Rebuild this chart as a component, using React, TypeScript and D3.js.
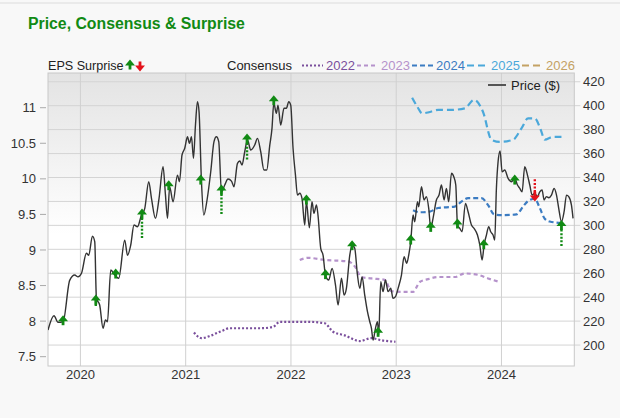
import * as d3 from "d3";

// price ($), right axis
const priceYears = [
  2019.692, 2019.749, 2019.787, 2019.835, 2019.898, 2019.946, 2019.977, 2020.01, 2020.057, 2020.079,
  2020.114, 2020.136, 2020.152, 2020.183, 2020.215, 2020.238, 2020.257, 2020.288, 2020.326, 2020.364,
  2020.421, 2020.447, 2020.478, 2020.509, 2020.542, 2020.58, 2020.611, 2020.649, 2020.675, 2020.713,
  2020.747, 2020.785, 2020.808, 2020.827, 2020.848, 2020.88, 2020.922, 2020.941, 2020.965, 2020.991,
  2021.017, 2021.036, 2021.055, 2021.074, 2021.093, 2021.112, 2021.127, 2021.15, 2021.172, 2021.203,
  2021.238, 2021.269, 2021.292, 2021.314, 2021.34, 2021.371, 2021.402, 2021.435, 2021.459, 2021.492,
  2021.514, 2021.535, 2021.561, 2021.587, 2021.618, 2021.656, 2021.682, 2021.713, 2021.744, 2021.77,
  2021.799, 2021.82, 2021.837, 2021.862, 2021.877, 2021.903, 2021.934, 2021.957, 2021.979, 2021.998,
  2022.02, 2022.043, 2022.062, 2022.084, 2022.105, 2022.131, 2022.147, 2022.175, 2022.2, 2022.219,
  2022.242, 2022.257, 2022.283, 2022.305, 2022.328, 2022.359, 2022.391, 2022.423, 2022.448, 2022.48,
  2022.505, 2022.527, 2022.559, 2022.581, 2022.606, 2022.632, 2022.654, 2022.676, 2022.701, 2022.727,
  2022.749, 2022.765, 2022.78, 2022.803, 2022.822, 2022.834, 2022.853, 2022.875, 2022.898, 2022.923,
  2022.948, 2022.97, 2022.993, 2023.018, 2023.05, 2023.075, 2023.1, 2023.119, 2023.138, 2023.16,
  2023.176, 2023.202, 2023.214, 2023.24, 2023.265, 2023.287, 2023.309, 2023.328, 2023.35, 2023.382,
  2023.407, 2023.43, 2023.455, 2023.477, 2023.499, 2023.525, 2023.547, 2023.566, 2023.582, 2023.604,
  2023.626, 2023.658, 2023.683, 2023.715, 2023.74, 2023.772, 2023.794, 2023.816, 2023.835, 2023.857,
  2023.879, 2023.898, 2023.92, 2023.936, 2023.952, 2023.968, 2023.987, 2024.006, 2024.031, 2024.063,
  2024.095, 2024.126, 2024.152, 2024.174, 2024.196, 2024.221, 2024.247, 2024.269, 2024.291, 2024.317,
  2024.342, 2024.364, 2024.386, 2024.405, 2024.427, 2024.449, 2024.475, 2024.5, 2024.523, 2024.544,
  2024.57, 2024.595, 2024.618, 2024.639, 2024.665, 2024.68,
];
const priceValues = [
  212.6, 224.5, 219, 219.5, 254, 258.5, 257, 260, 276.7, 275,
  291, 286.4, 239, 233.5, 214, 221, 219.5, 262.7, 258.5, 255.8,
  287.7, 275, 283.6, 300.3, 298.9, 308.6, 314, 336.5, 322.6, 305.9,
  322.6, 349, 325.3, 305.9, 332, 319.7, 342, 336.5, 358.8, 364.4,
  374, 368.5, 374, 356, 383.8, 403.3, 395, 336.5, 308.6, 321.2,
  344.8, 369.9, 374, 370, 328, 333.7, 338.7, 337, 332.3, 351.8,
  353.8, 350.4, 361.5, 371.3, 363, 367.1, 372.7, 361.5, 346.2, 346.2,
  367, 381, 402, 393.6, 400.5, 383.8, 397.8, 397.8, 403.3, 400.5,
  364.4, 342, 325.3, 326.8, 322.6, 300.3, 319.7, 298, 319.7, 310,
  317, 308.6, 280.8, 275.2, 258.5, 254.3, 264.1, 250.2, 233.5, 255.8,
  241.8, 247.4, 275.2, 283.6, 280.8, 258.5, 247.4, 257, 241.8, 227.9,
  219.5, 214, 204.2, 214, 219.5, 208.4, 252.9, 244.6, 254.3, 244.6,
  247.4, 239, 240.4, 247.4, 258.5, 273.8, 268.3, 275.2, 286.3, 308.6,
  303, 319.7, 315.6, 332.3, 321.2, 324, 314.2, 297.5, 305.9, 321.2,
  325.3, 333.7, 321.2, 330.9, 319.7, 343.5, 340.6, 333.7, 300.3, 297.5,
  294.7, 318.4, 311.4, 300.3, 297.5, 291.9, 283.6, 271, 283.6, 291.9,
  298.9, 294.7, 291.9, 287.7, 330.9, 353.2, 362.1, 344.8, 346.2, 339.3,
  336.5, 339.3, 333.7, 330.9, 328, 349, 342, 333.7, 325.3, 326.8,
  324, 328, 329.5, 321.2, 324, 323.1, 325.3, 330.9, 325.3, 314.2,
  303, 311.4, 325.3, 324, 317, 305.9,
];

// EPS consensus, left axis
const cons2022Years = [2021.079, 2021.15, 2021.245, 2021.34, 2021.419, 2021.53, 2021.72, 2021.83, 2021.894, 2022.036, 2022.162, 2022.321, 2022.4, 2022.511, 2022.654, 2022.765, 2022.86, 2022.993];
const cons2022Values = [7.84, 7.76, 7.8, 7.86, 7.9, 7.9, 7.9, 7.92, 7.99, 7.99, 7.99, 7.97, 7.85, 7.8, 7.72, 7.76, 7.73, 7.71];
const cons2023Years = [2022.084, 2022.162, 2022.321, 2022.543, 2022.606, 2022.67, 2022.765, 2022.891, 2022.955, 2023.081, 2023.16, 2023.224, 2023.303, 2023.398, 2023.556, 2023.651, 2023.778, 2023.873, 2023.984];
const cons2023Values = [8.86, 8.89, 8.86, 8.84, 8.77, 8.62, 8.6, 8.58, 8.42, 8.41, 8.41, 8.55, 8.59, 8.62, 8.62, 8.67, 8.65, 8.6, 8.55];
const cons2024Years = [2023.16, 2023.224, 2023.319, 2023.398, 2023.556, 2023.62, 2023.683, 2023.81, 2023.873, 2023.93, 2024.0, 2024.143, 2024.205, 2024.253, 2024.317, 2024.364, 2024.411, 2024.459, 2024.57];
const cons2024Values = [9.56, 9.53, 9.54, 9.59, 9.61, 9.68, 9.73, 9.73, 9.63, 9.5, 9.49, 9.5, 9.61, 9.69, 9.72, 9.59, 9.44, 9.4, 9.38];
const cons2025Years = [2023.151, 2023.202, 2023.246, 2023.319, 2023.398, 2023.525, 2023.651, 2023.74, 2023.825, 2023.905, 2023.984, 2024.11, 2024.19, 2024.253, 2024.317, 2024.373, 2024.411, 2024.49, 2024.57];
const cons2025Values = [11.14, 11.01, 10.92, 10.94, 10.97, 10.97, 10.99, 11.11, 10.94, 10.55, 10.52, 10.55, 10.71, 10.85, 10.85, 10.69, 10.55, 10.59, 10.59];

// EPS surprise markers
const surpriseYears = [2019.835, 2020.146, 2020.335, 2020.585, 2020.839, 2021.143, 2021.34, 2021.583, 2021.837, 2022.147, 2022.328, 2022.581, 2022.828, 2023.138, 2023.328, 2023.582, 2023.832, 2024.126, 2024.317, 2024.57];
const surprisePrices = [219.5, 236.8, 258.5, 308.6, 332.3, 337, 328.7, 371.3, 403.3, 320.3, 258, 282.2, 209.8, 286.9, 297.5, 300.3, 283, 337, 325.3, 299];
const surpriseDir = ["up", "up", "up", "up", "up", "up", "up", "up", "up", "up", "up", "up", "up", "up", "up", "up", "up", "up", "down", "up"];
const surpriseSize = [0, 0.03, 0, 0.3, 0, 0, 0.3, 0.24, 0, 0, 0, 0, 0, 0, 0, 0, 0, 0, 0.18, 0.25];

const leftTicks = [7.5, 8, 8.5, 9, 9.5, 10, 10.5, 11];
const rightTicks = [200, 220, 240, 260, 280, 300, 320, 340, 360, 380, 400, 420];
const yearTicks = [2020, 2021, 2022, 2023, 2024];
const consLabels = ["2022", "2023", "2024", "2025", "2026"];
const consColors = ["#7a4f9c", "#b592cb", "#3c7cc2", "#4ba8da", "#c4a264"];
const consDash = ["2 2", "4 3", "5 3", "7 4", "7 4"];

const FONT = "'Liberation Sans', Arial, Helvetica, sans-serif";
const GREEN = "#118a14";
const RED = "#e3121b";

function Arrow({ cx, cy, dir, tail, color }: { cx: number; cy: number; dir: string; tail: number; color: string }) {
  const s = dir === "up" ? 1 : -1;
  const head = `M${cx},${cy - 6.5 * s} L${cx + 5},${cy - 0.5 * s} L${cx - 5},${cy - 0.5 * s} Z`;
  return (
    <g>
      {tail > 0 && (
        <line x1={cx} x2={cx} y1={cy + 3 * s} y2={cy + (3 + tail) * s} stroke={color} strokeWidth={2.4} strokeDasharray="2 1.6" />
      )}
      <path d={head} fill={color} />
      <rect x={cx - 1.4} width={2.8} y={s > 0 ? cy - 1 : cy - 3.5} height={4.5} fill={color} />
    </g>
  );
}

export default function App() {
  const left = 48, right = 574.3, top = 73, bottom = 366;
  const x = d3.scaleLinear().domain([2019.692, 2024.692]).range([left, right]);
  const yL = d3.scaleLinear().domain([7.369, 11.488]).range([bottom, top]);
  const yR = d3.scaleLinear().domain([182.5, 427.3]).range([bottom, top]);

  const priceLine = d3
    .line<number>()
    .x((_, i) => x(priceYears[i]))
    .y((d) => yR(d))
    .curve(d3.curveMonotoneX);

  const consLine = (years: number[]) =>
    d3
      .line<number>()
      .x((_, i) => x(years[i]))
      .y((d) => yL(d))
      .curve(d3.curveMonotoneX);

  const consSeries = [
    { years: cons2022Years, values: cons2022Values },
    { years: cons2023Years, values: cons2023Values },
    { years: cons2024Years, values: cons2024Values },
    { years: cons2025Years, values: cons2025Values },
  ];

  // surprise size (EPS) to pixel length on the left axis
  const epsPx = (v: number) => yL(0) - yL(v);

  return (
    <svg width={620} height={418} style={{ position: "absolute", left: 0, top: 0 }} fontFamily={FONT}>
      <defs>
        <linearGradient id="bg" x1="0" y1="0" x2="0" y2="1">
          <stop offset="0" stopColor="#e3e3e3" />
          <stop offset="0.55" stopColor="#ffffff" />
          <stop offset="1" stopColor="#ffffff" />
        </linearGradient>
        <clipPath id="plot">
          <rect x={left} y={top} width={right - left} height={bottom - top} />
        </clipPath>
      </defs>
      <rect width={620} height={418} fill="#f8f8f8" />
      <line x1={0} x2={620} y1={3} y2={3} stroke="#dcdcdc" />

      <text x={28} y={29} fontSize={15.8} fontWeight="bold" fill={GREEN}>
        Price, Consensus &amp; Surprise
      </text>

      {/* legend row */}
      <text x={48} y={70} fontSize={12.6} fill="#222">EPS Surprise</text>
      <Arrow cx={130} cy={66} dir="up" tail={0} color={GREEN} />
      <Arrow cx={140} cy={65} dir="down" tail={0} color={RED} />
      <text x={227} y={70} fontSize={13} fill="#222">Consensus</text>
      {consLabels.map((lab, i) => {
        const s = 302 + i * 55;
        return (
          <g key={lab}>
            <line x1={s} x2={s + 21} y1={65.5} y2={65.5} stroke={consColors[i]} strokeWidth={2} strokeDasharray={consDash[i]} />
            <text x={s + 24} y={70} fontSize={13} fill={consColors[i]}>{lab}</text>
          </g>
        );
      })}

      {/* plot area */}
      <rect x={left} y={top} width={right - left} height={bottom - top} fill="url(#bg)" />
      {rightTicks.map((t) => (
        <line key={t} x1={left} x2={right + 6} y1={yR(t)} y2={yR(t)} stroke="#d4d4d4" />
      ))}
      {yearTicks.map((t) => (
        <line key={t} x1={x(t)} x2={x(t)} y1={top} y2={bottom} stroke="#d0d0d0" />
      ))}
      <rect x={left} y={top} width={right - left} height={bottom - top} fill="none" stroke="#c8c8c8" />

      {/* axes labels */}
      {leftTicks.map((t) => (
        <g key={t}>
          <line x1={40} x2={46} y1={yL(t)} y2={yL(t)} stroke="#aaa" />
          <text x={36} y={yL(t)} dy="0.35em" textAnchor="end" fontSize={13} fill="#333">{t}</text>
        </g>
      ))}
      {rightTicks.map((t) => (
        <text key={t} x={583} y={yR(t)} dy="0.35em" fontSize={13} fill="#333">{t}</text>
      ))}
      {yearTicks.map((t) => (
        <text key={t} x={x(t)} y={379} textAnchor="middle" fontSize={13} fill="#333">{t}</text>
      ))}

      <g clipPath="url(#plot)">
        {consSeries.map((c, i) => (
          <path key={i} d={consLine(c.years)(c.values) || ""} fill="none" stroke={consColors[i]} strokeWidth={2.2} strokeDasharray={consDash[i]} />
        ))}
        <path d={priceLine(priceValues) || ""} fill="none" stroke="#333" strokeWidth={1.4} />
        {surpriseYears.map((yr, i) => (
          <Arrow
            key={i}
            cx={x(yr)}
            cy={yR(surprisePrices[i])}
            dir={surpriseDir[i]}
            tail={epsPx(surpriseSize[i])}
            color={surpriseDir[i] === "up" ? GREEN : RED}
          />
        ))}
      </g>

      {/* price legend */}
      <line x1={488} x2={506} y1={85} y2={85} stroke="#555" strokeWidth={2} />
      <text x={511} y={89.5} fontSize={13} fill="#222">Price ($)</text>
    </svg>
  );
}
